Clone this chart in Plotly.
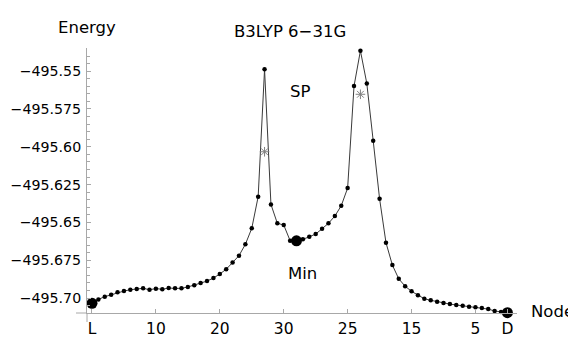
import plotly.graph_objects as go

# Path position index (forward L..Min, then reverse Min..D)
node_pos = list(range(66))
energy = [
    -495.7035, -495.7009, -495.6991, -495.6978, -495.6962, -495.6954, -495.6945,
    -495.6941, -495.6936, -495.6945, -495.6938, -495.6942, -495.6934, -495.6936,
    -495.6936, -495.6927, -495.6916, -495.6901, -495.6888, -495.6868, -495.6841,
    -495.6810, -495.6765, -495.6720, -495.6645, -495.6539, -495.6330, -495.5488,
    -495.6381, -495.6506, -495.6517, -495.6621, -495.6622,
    -495.6612, -495.6595, -495.6577, -495.6542, -495.6506, -495.6458, -495.6390,
    -495.6273, -495.5599, -495.5365, -495.5581, -495.5960, -495.6344, -495.6634,
    -495.6782, -495.6873, -495.6922, -495.6956, -495.6982, -495.7005, -495.7015,
    -495.7024, -495.7033, -495.7040, -495.7046, -495.7051, -495.7058, -495.7061,
    -495.7066, -495.7073, -495.7086, -495.7093, -495.7097,
]
key_pos = [0, 32, 65]          # L, Min, D
star_pos = [27, 42]
star_energy = [-495.6033, -495.5653]

x_tickvals = [0, 10, 20, 30, 40, 50, 60, 65]
x_ticktext = ["L", "10", "20", "30", "25", "15", "5", "D"]
y_tickvals = [-495.70, -495.675, -495.65, -495.625, -495.60, -495.575, -495.55]
y_ticktext = ["\u2212495.70", "\u2212495.675", "\u2212495.65", "\u2212495.625",
              "\u2212495.60", "\u2212495.575", "\u2212495.55"]

key_energy = [energy[i] for i in key_pos]

FONT = "DejaVu Sans"
AX = "#a8a8a8"

# page body has an 8px margin; figure is offset accordingly
W, H = 568, 348
L, T, R, B = 79, 40, 59, 43
PW, PH = W - L - R, H - T - B   # 430 x 265

fig = go.Figure()
fig.add_trace(go.Scatter(
    x=node_pos, y=energy, mode="lines+markers",
    line=dict(color="#3a3a3a", width=1),
    marker=dict(color="black", size=4.5),
    cliponaxis=False, showlegend=False, hoverinfo="skip"))
fig.add_trace(go.Scatter(
    x=key_pos, y=key_energy, mode="markers",
    marker=dict(color="black", size=11),
    cliponaxis=False, showlegend=False, hoverinfo="skip"))
fig.add_trace(go.Scatter(
    x=star_pos, y=star_energy, mode="markers",
    marker=dict(symbol="asterisk-open", size=8, color="#808080",
                line=dict(color="#808080", width=1)),
    cliponaxis=False, showlegend=False, hoverinfo="skip"))

fig.update_layout(
    width=W, height=H,
    margin=dict(l=L, r=R, t=T, b=B),
    paper_bgcolor="white", plot_bgcolor="white",
    font=dict(family=FONT, size=15, color="black"),
    xaxis=dict(range=[-0.78, 66.5], showgrid=False, zeroline=False,
               automargin=False,
               showline=True, linecolor=AX, linewidth=1,
               tickmode="array", tickvals=x_tickvals, ticktext=x_ticktext,
               ticks="inside", ticklen=4, tickcolor=AX,
               ticklabelstandoff=1,
               tickfont=dict(family=FONT, size=15.5, color="black")),
    yaxis=dict(range=[-495.7099, -495.5347], showgrid=False, zeroline=False,
               automargin=False,
               showline=True, linecolor=AX, linewidth=1,
               tickmode="array", tickvals=y_tickvals, ticktext=y_ticktext,
               ticks="inside", ticklen=4, tickcolor=AX,
               ticklabelstandoff=2,
               minor=dict(tickmode="linear", tick0=-495.70, dtick=0.005,
                          ticks="inside", ticklen=2.5, tickcolor=AX),
               tickfont=dict(family=FONT, size=14.2, color="black")),
)

# axis extensions beyond the crossing point
fig.add_shape(type="line", xref="paper", yref="paper",
              x0=-11/PW, x1=0, y0=0, y1=0, line=dict(color=AX, width=1))
fig.add_shape(type="line", xref="paper", yref="paper",
              x0=0, x1=0, y0=-9/PH, y1=0, line=dict(color=AX, width=1))

def px(sx):   # screen x -> paper
    return (sx - 8 - L) / PW

def py(sy):   # screen y -> paper
    return (H - B - (sy - 8)) / PH

ann = dict(showarrow=False, font=dict(family=FONT, size=16.5, color="black"))
fig.add_annotation(text="Energy", xref="paper", yref="paper",
                   x=px(87), y=py(27), xanchor="center", yanchor="middle", **ann)
fig.add_annotation(text="B3LYP 6\u221231G", xref="paper", yref="paper",
                   x=px(289.5), y=py(31), xanchor="center", yanchor="middle", **ann)
fig.add_annotation(text="Node", xref="paper", yref="paper",
                   x=px(552.5), y=py(311), xanchor="center", yanchor="middle", **ann)
fig.add_annotation(text="SP", xref="x", yref="y", x=32.55, y=-495.5635,
                   xanchor="center", yanchor="middle", **ann)
fig.add_annotation(text="Min", xref="x", yref="y", x=33.0, y=-495.6841,
                   xanchor="center", yanchor="middle", **ann)

fig.write_html("out.html")
